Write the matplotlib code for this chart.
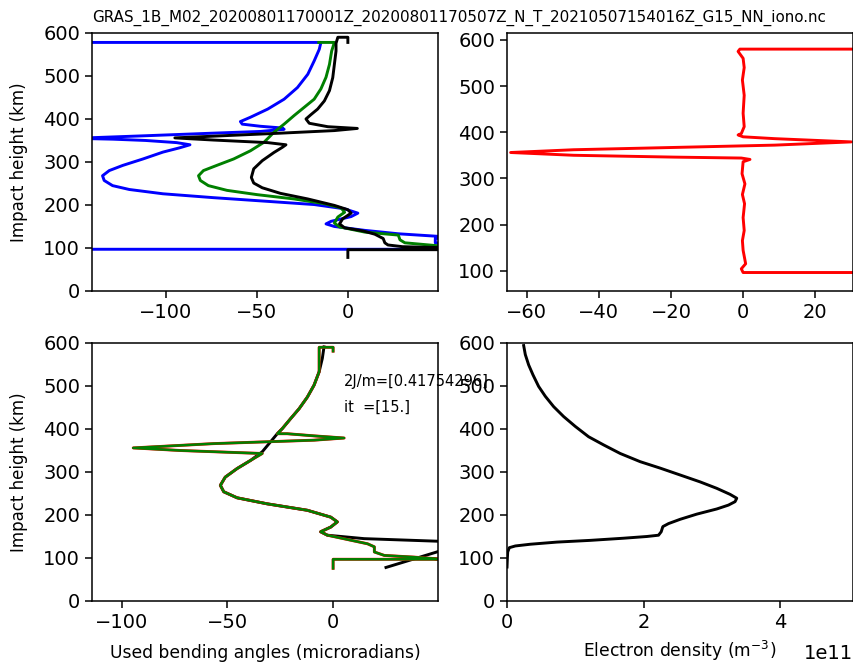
import matplotlib
matplotlib.use("Agg")
import matplotlib.pyplot as plt

# bending angles (microradians) vs impact height (km), top left panel
tl_black_a = [0, 0, -5.5, -6.5, -6.5, -7.4, -8.3, -10.1, -12.9, -16.6, -20.3, -23, -21.2, -11,
              5.2, -7.4, -37, -73.8, -95, -73.8, -44, -34, -36, -40.6, -47, -51.7, -53, -51.7,
              -47, -37, -22, -7.4, 0, 1.8, -2.8, -4.6, -1.8, 8, 14.8, 19.4, 20.3, 22, 30,
              49.8, 80, 80, 0, 0]
tl_black_h = [578, 590, 590, 576, 558, 527, 496, 466, 442, 423, 410, 400, 390, 382,
              378, 373, 367, 360, 356, 351, 345, 340, 334, 322, 303, 284, 264, 251,
              240, 227, 214, 199, 189, 181, 168, 156, 147, 140, 132, 122, 112, 107, 103,
              101, 99, 96, 96, 78]

tl_green_a = [-16, -7.4, -8.9, -10.1, -12, -14.8, -18.5, -24, -29.5, -35, -40.6, -46, -53.5,
              -62.7, -72, -79.3, -82, -81, -76.6, -66.4, -49.8, -29.5, -12.9, -3.7, -1.8,
              -5.5, -7.4, -4.6, 9.2, 27.7, 28.6, 31.3, 49.8, 80]
tl_green_h = [578, 578, 558, 527, 497, 470, 446, 427, 408, 388, 369, 346, 326,
              307, 292, 280, 268, 257, 245, 234, 224, 214, 203, 193, 183,
              172, 158, 149, 137, 130, 119, 112, 105, 103]

tl_blue_a = [-200, -14.8, -15.7, -18.5, -22, -27.7, -35, -44, -53.5, -59, -58, -48, -36, -35,
             -48, -74, -111, -150, -129, -111, -94, -86.7, -92.3, -101.5, -112.5, -123.6,
             -131, -134.7, -133.8, -129.2, -120, -101.5, -73.8, -46.1, -18.5, -1.8, 5.5,
             1.8, -9.2, -12, -7.4, 9.2, 27.7, 49.8, 60, 48, 48, 60, 60, -200]
tl_blue_h = [578, 578, 562, 535, 504, 473, 446, 423, 404, 394, 388, 383, 379, 376,
             371, 367, 361, 355, 353, 350, 345, 340, 333, 323, 307, 292,
             280, 268, 257, 245, 236, 226, 217, 209, 201, 191, 181,
             173, 162, 156, 150, 141, 133, 127, 125, 122, 112, 108, 97, 97]

# top right panel (red)
tr_red_a = [40, -0.9, -1.4, 0, 0.3, -0.2, 0.3, 0, 0.3, -0.5, -1.4, 0, 8.8, 30, 8.8, -19,
            -47, -64.5, -47, -19, -0.5, 1.9, 0, -0.3, 0.5, -0.2, 0.4, 0, 0.3, -0.2, 0, 0.7,
            -0.5, 0, 40]
tr_red_h = [580, 580, 575, 560, 540, 513, 480, 441, 412, 397, 394, 390, 386, 379, 372, 367,
            362, 356, 350, 346, 344, 341, 336, 310, 288, 265, 245, 215, 187, 165, 144, 115,
            104, 96, 96]

# bottom left panel: used bending angles
bl_black_a = [-4.3, -5.1, -6.6, -9, -12.2, -16.1, -20.1, -24, -26.4, -29.6, -33.5, -39,
              -45.4, -51, -53.3, -51.7, -45.4, -31.2, -12.2, -1.1, 2, -1.1, -5.9, -2.7,
              14.7, 49.5, 70, 70, 49.7, 25]
bl_black_h = [591, 564, 533, 502, 474, 447, 424, 401, 389, 370, 347, 327,
              308, 288, 269, 254, 240, 226, 211, 195, 184, 172, 161, 153,
              145, 139, 136, 118, 115, 78]

bl_green_a = [0, 0, -6.6, -6.6, -6.6, -9, -12.2, -16.1, -20.1, -24, -26.4, -21.7, -9, 5.2,
              -9, -56.5, -94.5, -72.3, -33.5, -39, -45.4, -51, -53.3, -51.7, -45.4, -31.2,
              -12.2, -1.1, 2, -1.1, -5.9, -2.7, 6.8, 16.3, 19.5, 19.5, 24.2, 38.4, 49.5,
              70, 70, 0, 0]
bl_green_h = [581, 590, 590, 582, 533, 502, 474, 447, 424, 401, 389, 389, 384, 379,
              374, 366, 356, 350, 343, 327, 308, 288, 269, 254, 240, 226,
              211, 195, 184, 172, 161, 153, 143, 133, 126, 114, 106, 102, 98,
              98, 97, 97, 76]

# bottom right panel: electron density (units of 1e11 m^-3)
br_ne = [0.244, 0.268, 0.317, 0.38, 0.463, 0.561, 0.683, 0.829, 1.0, 1.195, 1.415, 1.659,
         1.951, 2.244, 2.537, 2.829, 3.073, 3.268, 3.366, 3.341, 3.244, 3.073, 2.78, 2.537,
         2.366, 2.283, 2.259, 2.22, 2.049, 1.707, 1.22, 0.732, 0.341, 0.122, 0.034, 0.01,
         0.005, 0]
br_h = [594, 573, 549, 526, 499, 476, 452, 429, 406, 382, 363, 343,
        324, 309, 293, 277, 262, 248, 239, 231, 223, 214, 202, 190,
        180, 173, 161, 153, 150, 146, 141, 137, 132, 128, 124, 114,
        99, 79]

title = "GRAS_1B_M02_20200801170001Z_20200801170507Z_N_T_20210507154016Z_G15_NN_iono.nc"

plt.rcParams['xtick.labelsize'] = 14
plt.rcParams['ytick.labelsize'] = 14
plt.rcParams['xtick.major.size'] = 5
plt.rcParams['ytick.major.size'] = 5
plt.rcParams['xtick.major.width'] = 1.1
plt.rcParams['ytick.major.width'] = 1.1
plt.rcParams['axes.linewidth'] = 1.1

fig = plt.figure(figsize=(8.54, 6.66), dpi=100)
w, hgt = 0.4052, 0.3874
ax1 = fig.add_axes([0.1077, 0.5631, w, hgt])
ax2 = fig.add_axes([0.5937, 0.5631, w, hgt])
ax3 = fig.add_axes([0.1077, 0.0976, w, hgt])
ax4 = fig.add_axes([0.5937, 0.0976, w, hgt])

lw = 2.1
ax1.plot(tl_blue_a, tl_blue_h, 'b-', lw=lw)
ax1.plot(tl_green_a, tl_green_h, 'g-', lw=lw)
ax1.plot(tl_black_a, tl_black_h, 'k-', lw=lw)
ax1.set_xlim(-140.5, 49.5)
ax1.set_ylim(0, 600)
ax1.set_ylabel("Impact height (km)", fontsize=12, labelpad=11)
ax1.set_title(title, loc='left', fontsize=10.9, pad=8)

ax2.plot(tr_red_a, tr_red_h, 'r-', lw=lw)
ax2.set_xlim(-65.5, 30.5)
ax2.set_ylim(56, 615)

ax3.plot(bl_black_a, bl_black_h, 'k-', lw=lw)
ax3.plot(bl_green_a, bl_green_h, 'r-', lw=lw)
ax3.plot(bl_green_a, bl_green_h, 'g-', lw=lw * 0.85)
ax3.set_xlim(-114, 49.6)
ax3.set_ylim(0, 600)
ax3.set_ylabel("Impact height (km)", fontsize=12, labelpad=11)
ax3.set_xlabel("Used bending angles (microradians)", fontsize=12.3, labelpad=9)
ax3.text(5, 500, "2J/m=[0.41754296]", fontsize=10.5)
ax3.text(5, 440, "it  =[15.]", fontsize=10.5)

ax4.plot([v * 1e11 for v in br_ne], br_h, 'k-', lw=lw)
ax4.set_xlim(0, 5.07e11)
ax4.set_ylim(0, 600)
ax4.set_xlabel("Electron density (m$^{-3}$)", fontsize=12.3, labelpad=5)
ax4.xaxis.OFFSETTEXTPAD = 9

fig.savefig("out.png", dpi=100)
